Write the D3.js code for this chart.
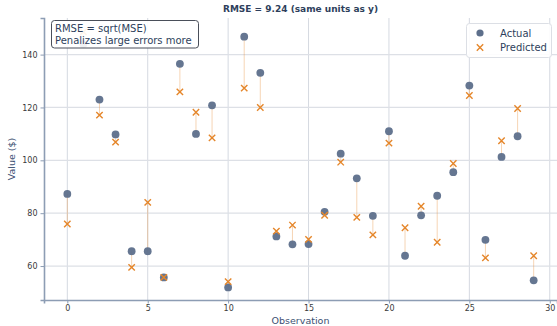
<!DOCTYPE html>
<html>
<head>
<meta charset="utf-8">
<script src="https://cdn.jsdelivr.net/npm/d3@7"></script>
<style>
  body { margin: 0; background: #fff; }
  svg { font-family: "DejaVu Sans", sans-serif; }
</style>
</head>
<body>
<svg id="chart" width="557" height="326"></svg>
<script>
// observation values
const observations = d3.range(30);
const actual = [87.3, 144.0, 123.0, 109.8, 65.6, 65.6, 55.7, 136.5, 110.0, 120.8,
                51.9, 146.8, 133.1, 71.2, 68.2, 68.3, 80.5, 102.5, 93.2, 79.0,
                111.0, 63.9, 79.2, 86.6, 95.5, 128.3, 69.9, 101.3, 109.1, 54.6];
const predicted = [75.9, 148.6, 117.1, 106.9, 59.5, 84.1, 55.7, 125.9, 118.2, 108.5,
                   54.1, 127.3, 120.0, 73.2, 75.5, 70.1, 79.2, 99.3, 78.4, 71.8,
                   106.5, 74.5, 82.6, 69.0, 98.8, 124.5, 63.1, 107.4, 119.6, 63.9];
const xTicks = [0, 5, 10, 15, 20, 25, 30];
const yTicks = [60, 80, 100, 120, 140];

const svg = d3.select('#chart');
const mLeft = 44, mRight = 557, mTop = 18, mBottom = 300;

const x = d3.scaleLinear().domain([-1.45, 30.45]).range([mLeft, mRight]);
const y = d3.scaleLinear().domain([47.15, 153.85]).range([mBottom, mTop]);

const navy = '#2e3f5c';
const actualColor = '#5d6f8b';
const predColor = '#e5862a';

// grid
svg.append('g').selectAll('line').data(xTicks).enter().append('line')
  .attr('x1', d => x(d)).attr('x2', d => x(d))
  .attr('y1', mTop).attr('y2', mBottom)
  .attr('stroke', '#d5d9e1').attr('stroke-width', 1);
svg.append('g').selectAll('line').data(yTicks).enter().append('line')
  .attr('x1', mLeft).attr('x2', mRight)
  .attr('y1', d => y(d)).attr('y2', d => y(d))
  .attr('stroke', '#dde0e6').attr('stroke-width', 1.2);

// axes
const xAxis = svg.append('g').attr('transform', `translate(0,${mBottom})`)
  .call(d3.axisBottom(x).tickValues(xTicks).tickSize(3.5).tickPadding(2));
const yAxis = svg.append('g').attr('transform', `translate(${mLeft},0)`)
  .call(d3.axisLeft(y).tickValues(yTicks).tickSize(3.5).tickPadding(3));
[xAxis, yAxis].forEach(a => {
  a.select('.domain').attr('stroke', '#8d9db4').attr('stroke-width', 1.6);
  a.selectAll('.tick line').attr('stroke', '#8d9db4');
  a.selectAll('.tick text').attr('fill', '#3a3a3a').style('font-size', '8px')
    .style('font-family', '"DejaVu Sans", sans-serif');
});

// residual lines
svg.append('g').selectAll('line').data(observations).enter().append('line')
  .attr('x1', d => x(d)).attr('x2', d => x(d))
  .attr('y1', d => y(actual[d])).attr('y2', d => y(predicted[d]))
  .attr('stroke', predColor).attr('stroke-opacity', 0.35).attr('stroke-width', 1);

// actual points
svg.append('g').selectAll('circle').data(observations).enter().append('circle')
  .attr('cx', d => x(d)).attr('cy', d => y(actual[d]))
  .attr('r', 3.9).attr('fill', actualColor).attr('fill-opacity', 0.95);

// predicted markers
const xm = 3.2;
svg.append('g').selectAll('path').data(observations).enter().append('path')
  .attr('d', d => {
    const cx = x(d), cy = y(predicted[d]);
    return `M${cx - xm},${cy - xm}L${cx + xm},${cy + xm}M${cx - xm},${cy + xm}L${cx + xm},${cy - xm}`;
  })
  .attr('stroke', predColor).attr('stroke-width', 1.4).attr('fill', 'none');

// annotation box
const ann = svg.append('g');
ann.append('rect').attr('x', 51.5).attr('y', 20.5).attr('width', 147).attr('height', 27.5)
  .attr('rx', 3).attr('fill', '#fff').attr('fill-opacity', 0.9)
  .attr('stroke', '#4a4f5a').attr('stroke-width', 1);
ann.append('text').attr('x', 55).attr('y', 31.5).attr('fill', navy)
  .style('font-size', '10px').text('RMSE = sqrt(MSE)');
ann.append('text').attr('x', 55).attr('y', 44).attr('fill', navy)
  .style('font-size', '10px').text('Penalizes large errors more');

// legend
const lg = svg.append('g');
lg.append('rect').attr('x', 466.5).attr('y', 23.5).attr('width', 85).attr('height', 34)
  .attr('rx', 3).attr('fill', '#fff').attr('fill-opacity', 0.9)
  .attr('stroke', '#dcdfe5').attr('stroke-width', 1);
lg.append('circle').attr('cx', 480).attr('cy', 33).attr('r', 3.6).attr('fill', actualColor);
lg.append('path')
  .attr('d', `M${480 - xm},${47.5 - xm}L${480 + xm},${47.5 + xm}M${480 - xm},${47.5 + xm}L${480 + xm},${47.5 - xm}`)
  .attr('stroke', predColor).attr('stroke-width', 1.4);
lg.append('text').attr('x', 500).attr('y', 36.5).attr('fill', navy)
  .style('font-size', '10px').text('Actual');
lg.append('text').attr('x', 500).attr('y', 51).attr('fill', navy)
  .style('font-size', '10px').text('Predicted');

// title and axis labels
svg.append('text').attr('x', (mLeft + mRight) / 2).attr('y', 12).attr('text-anchor', 'middle')
  .attr('fill', navy).style('font-size', '9px').style('font-weight', 'bold')
  .text('RMSE = 9.24 (same units as y)');
svg.append('text').attr('x', (mLeft + mRight) / 2).attr('y', 323.5).attr('text-anchor', 'middle')
  .attr('fill', '#3b4f72').style('font-size', '9.5px').text('Observation');
svg.append('text').attr('transform', `translate(15,${(mTop + mBottom) / 2}) rotate(-90)`)
  .attr('text-anchor', 'middle')
  .attr('fill', '#3b4f72').style('font-size', '9.5px').text('Value ($)');
</script>
</body>
</html>
